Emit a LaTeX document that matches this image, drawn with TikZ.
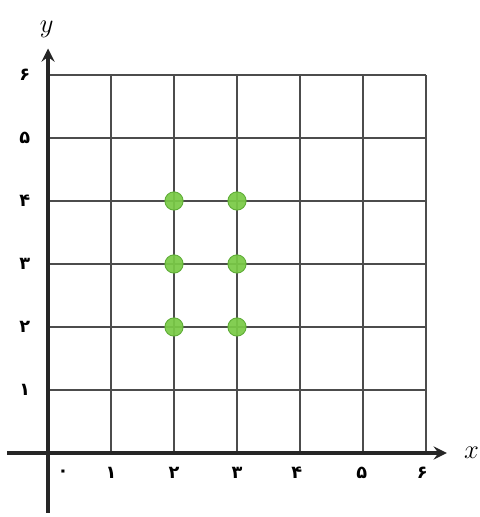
\documentclass[tikz,border=0pt]{standalone}
\usepackage{fontspec}
\usepackage{tikz}
\usetikzlibrary{arrows}
\newfontfamily\farsi[Script=Arabic]{DejaVu Sans}
\definecolor{dotgreen}{RGB}{122,202,70}
\definecolor{dotedge}{RGB}{90,170,50}
\tikzstyle{gridline} = [draw=black!70, line width=0.75pt]
\tikzstyle{axis} = [draw=black!85, line width=1.6pt, -stealth]
\tikzstyle{dot} = [circle, inner sep=0pt, minimum size=0.29cm, fill=dotgreen, draw=dotedge, line width=0.4pt, opacity=0.93]
\tikzstyle{num} = [inner sep=0pt, font=\farsi\bfseries\fontsize{8}{9}\selectfont]

\begin{document}
\begin{tikzpicture}
        \useasboundingbox (-0.762,-1.016) rectangle (6.841,7.190);
        % grid
        \draw [gridline] (0,0) grid (6,6);

        % axes
        \coordinate (xs) at (-0.65,0);
        \coordinate (xe) at (6.33,0);
        \coordinate (ys) at (0,-0.95);
        \coordinate (ye) at (0,6.42);
        \path [axis] (xs) -- (xe);
        \path [axis] (ys) -- (ye);
        \node (X) at (6.72,0) {\fontsize{13}{14}\selectfont$x$};
        \node (Y) at (-0.02,6.72) {\fontsize{13}{14}\selectfont$y$};

        % numbers on the x axis
        \node (x0) [num] at (0.24,-0.32) {۰};
        \node (x1) [num] at (1,-0.32) {۱};
        \node (x2) [num] at (2,-0.32) {۲};
        \node (x3) [num] at (3,-0.32) {۳};
        \node (x4) [num] at (3.95,-0.32) {۴};
        \node (x5) [num] at (4.98,-0.32) {۵};
        \node (x6) [num] at (5.94,-0.32) {۶};

        % numbers on the y axis
        \node (y1) [num] at (-0.37,1) {۱};
        \node (y2) [num] at (-0.37,2) {۲};
        \node (y3) [num] at (-0.37,3) {۳};
        \node (y4) [num] at (-0.37,4) {۴};
        \node (y5) [num] at (-0.37,5) {۵};
        \node (y6) [num] at (-0.37,6) {۶};

        % points
        \node (P24) [dot] at (2,4) {};
        \node (P34) [dot] at (3,4) {};
        \node (P23) [dot] at (2,3) {};
        \node (P33) [dot] at (3,3) {};
        \node (P22) [dot] at (2,2) {};
        \node (P32) [dot] at (3,2) {};

    \end{tikzpicture}
\end{document}
